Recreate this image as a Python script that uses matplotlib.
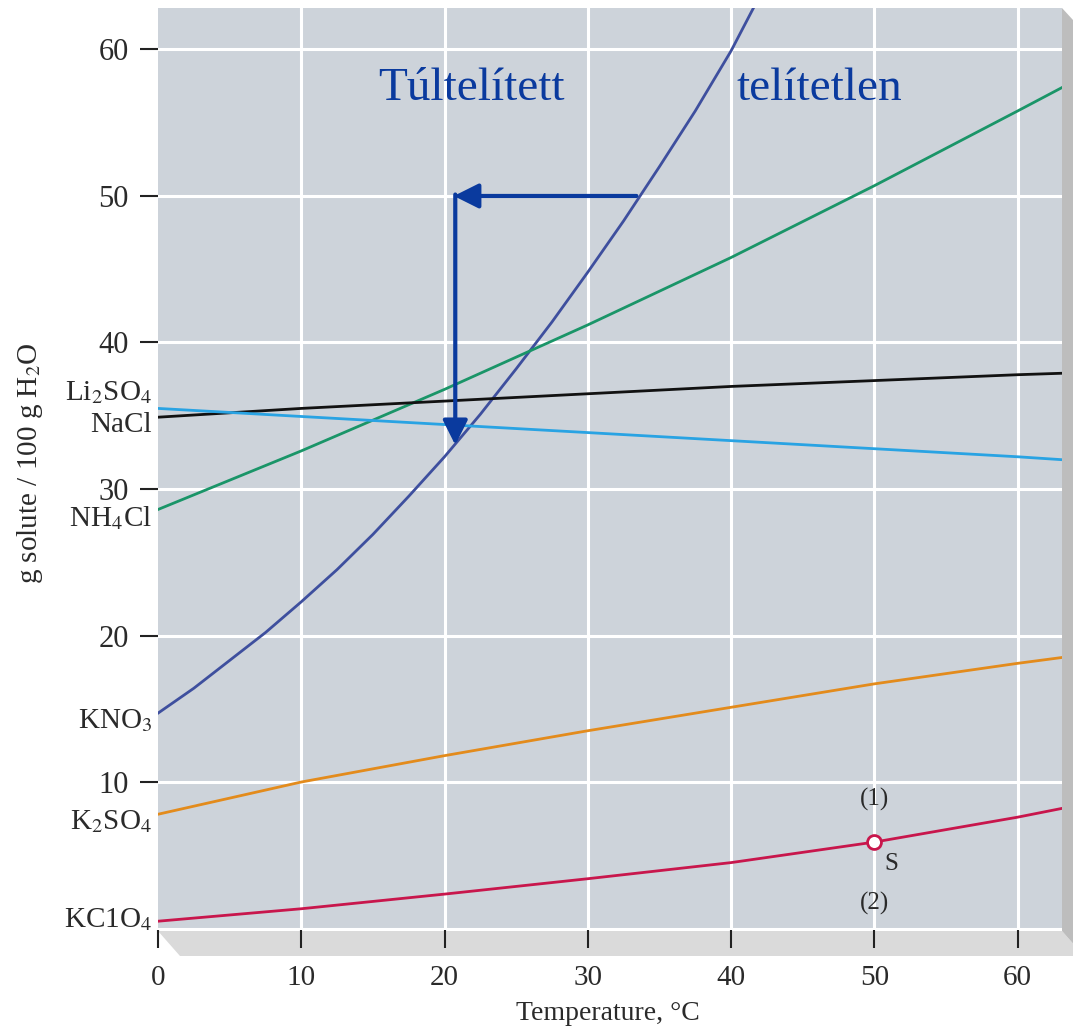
import numpy as np
import matplotlib
matplotlib.use("Agg")
import matplotlib.pyplot as plt
from matplotlib.patches import Polygon

# Solubility data (g solute / 100 g H2O)
temp_kno3 = [0, 2.5, 5, 7.5, 10, 12.5, 15, 17.5, 20, 22.5, 25, 27.5, 30, 32.5, 35, 37.5, 40, 41.6]
kno3 = [14.7, 16.4, 18.3, 20.2, 22.3, 24.5, 26.9, 29.5, 32.2, 35.1, 38.2, 41.4, 44.8, 48.3, 52.0, 55.8, 59.9, 62.9]

temp = [0, 10, 20, 30, 40, 50, 60, 63.1]
nh4cl = [28.6, 32.6, 36.8, 41.2, 45.8, 50.7, 55.8, 57.4]
nacl = [34.9, 35.5, 36.0, 36.5, 37.0, 37.4, 37.8, 37.9]
li2so4 = [35.5, 34.95, 34.4, 33.85, 33.3, 32.75, 32.2, 32.0]
k2so4 = [7.8, 10.0, 11.8, 13.5, 15.1, 16.7, 18.1, 18.5]
kclo4 = [0.5, 1.35, 2.35, 3.4, 4.5, 5.9, 7.6, 8.2]

species = ["Li$_2$SO$_4$", "NaCl", "NH$_4$Cl", "KNO$_3$", "K$_2$SO$_4$", "KC1O$_4$"]
species_y = [36.6, 34.4, 28.0, 14.2, 7.3, 0.6]

point_s = (50, 5.9)
x_ticks = [0, 10, 20, 30, 40, 50, 60]
y_ticks = [10, 20, 30, 40, 50, 60]

BLUE_TXT = "#0a3a9e"
TXT = "#2a2a2a"

plt.rcParams["font.family"] = ["Liberation Serif", "DejaVu Serif"]
plt.rcParams["mathtext.fontset"] = "stix"

W, H = 1073, 1030
fig = plt.figure(figsize=(W / 100, H / 100), dpi=100)
fig.patch.set_facecolor("white")

def fx(px):
    return px / W

def fy(py):
    return 1 - py / H

ax = fig.add_axes([fx(158), fy(930), fx(1062) - fx(158), fy(8) - fy(930)])
ax.set_facecolor("#cdd3da")
for s in ax.spines.values():
    s.set_visible(False)

# 3D-ish base plates
bottom = Polygon([(fx(158), fy(931)), (fx(1062), fy(931)), (fx(1084), fy(956)), (fx(180), fy(956))],
                 closed=True, transform=fig.transFigure, facecolor="#dadada", edgecolor="none", zorder=-1)
right = Polygon([(fx(1062), fy(8)), (fx(1084), fy(32)), (fx(1084), fy(956)), (fx(1062), fy(931))],
                closed=True, transform=fig.transFigure, facecolor="#bdbdbd", edgecolor="none", zorder=-1)
fig.patches.extend([bottom, right])

ax.set_xlim(0, 63.1)
ax.set_ylim(-0.1, 62.83)

ax.set_xticks(x_ticks)
ax.set_yticks(y_ticks)
for v in x_ticks[1:]:
    ax.axvline(v, color="white", lw=2.2, zorder=1)
for v in [0] + y_ticks:
    ax.axhline(v, color="white", lw=2.2, zorder=1)

ax.tick_params(axis="x", direction="out", length=13, width=1.5, pad=12, labelsize=21,
               color="#222222", labelcolor=TXT)
ax.tick_params(axis="y", direction="out", length=13, width=1.5, pad=8, labelsize=22,
               color="#222222", labelcolor=TXT)

lw = 2.0
ax.plot(temp_kno3, kno3, color="#3e4f9e", lw=lw, zorder=3)
ax.plot(temp, nh4cl, color="#1a9568", lw=lw, zorder=3)
ax.plot(temp, nacl, color="#111111", lw=lw, zorder=3)
ax.plot(temp, li2so4, color="#29a3e3", lw=lw, zorder=3)
ax.plot(temp, k2so4, color="#e38b1c", lw=lw, zorder=3)
ax.plot(temp, kclo4, color="#c8164c", lw=lw, zorder=3)

ax.plot(*point_s, marker="o", ms=10, mfc="white", mec="#c8164c", mew=2, zorder=5)
ax.text(50, 8.8, "(1)", fontsize=18, ha="center", va="center", color=TXT)
ax.text(51.2, 4.4, "S", fontsize=18, ha="center", va="center", color=TXT)
ax.text(50, 1.7, "(2)", fontsize=18, ha="center", va="center", color=TXT)

for lab, yv in zip(species, species_y):
    ax.text(-0.42, yv, lab, fontsize=21, ha="right", va="center", color=TXT, clip_on=False)

# arrows
ax.annotate("", xy=(20.65, 50), xytext=(33.4, 50),
            arrowprops=dict(arrowstyle="-|>,head_length=0.5,head_width=0.25", color=BLUE_TXT, lw=3,
                            mutation_scale=30, shrinkA=0, shrinkB=0),
            zorder=6)
ax.annotate("", xy=(20.75, 33.0), xytext=(20.75, 50.1),
            arrowprops=dict(arrowstyle="-|>,head_length=0.5,head_width=0.25", color=BLUE_TXT, lw=3,
                            mutation_scale=30, shrinkA=0, shrinkB=0),
            zorder=6)

ax.text(15.4, 57.3, "Túltelített", fontsize=34, color=BLUE_TXT, ha="left", va="center")
ax.text(40.4, 57.3, "telítetlen", fontsize=34, color=BLUE_TXT, ha="left", va="center")

fig.text(fx(608), fy(1014), "Temperature, °C", fontsize=20, ha="center", va="center", color=TXT)
fig.text(fx(30), fy(463), "g solute / 100 g H$_2$O", fontsize=21, ha="center", va="center",
         rotation=90, color=TXT)

fig.savefig("out.png", dpi=100)
